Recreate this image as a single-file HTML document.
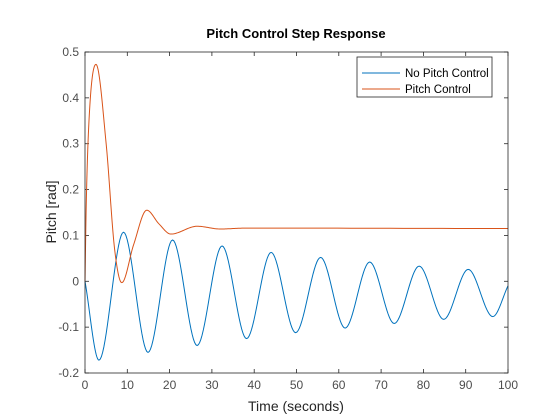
<!DOCTYPE html>
<html><head><meta charset="utf-8"><style>
body{margin:0;background:#fff;}
svg{display:block;font-family:"Liberation Sans",sans-serif;}
</style></head><body>
<svg id="chart" width="560" height="420">
<rect x="0" y="0" width="560" height="420" fill="#fff"/>
<rect x="85" y="52" width="423" height="321" fill="#fff"/>
<g id="ticks"></g>
<g id="series"></g>
<rect x="85" y="52" width="423" height="321" fill="none" stroke="#262626" stroke-width="0.8"/>
<text x="296" y="38" text-anchor="middle" font-size="13" font-weight="bold" fill="#000">Pitch Control Step Response</text>
<text x="296" y="411" text-anchor="middle" font-size="14" fill="#262626">Time (seconds)</text>
<text x="0" y="0" transform="translate(56,212) rotate(-90)" text-anchor="middle" font-size="14" fill="#262626">Pitch [rad]</text>
<g>
<rect x="357" y="57" width="135" height="40" fill="#fff" stroke="#262626" stroke-width="0.8"/>
<line x1="362" y1="73" x2="400" y2="73" stroke="#0072BD" stroke-width="1"/>
<text x="405" y="77" font-size="11.5" fill="#000">No Pitch Control</text>
<line x1="362" y1="89" x2="400" y2="89" stroke="#D95319" stroke-width="1"/>
<text x="405" y="93" font-size="11.5" fill="#000">Pitch Control</text>
</g>
</svg>
<script>
const xTicks=[0,10,20,30,40,50,60,70,80,90,100];
const yTicks=[-0.2,-0.1,0,0.1,0.2,0.3,0.4,0.5];
const yTickLabels=["-0.2","-0.1","0","0.1","0.2","0.3","0.4","0.5"];
const noPitchT=[0,3.3,9.1,14.9,20.7,26.5,32.4,38.2,44,49.8,55.7,61.5,67.3,73.1,79,84.8,90.6,96.4,100];
const noPitchY=[0,-0.172,0.107,-0.155,0.09,-0.14,0.077,-0.125,0.063,-0.112,0.052,-0.102,0.042,-0.092,0.033,-0.083,0.026,-0.077,-0.01];
const pitchT=[0,0.3,1,2.6,5,7,8.7,11.5,14.6,17.5,20.3,26.5,32,38,100];
const pitchY=[0,0.17,0.36,0.473,0.3,0.07,-0.003,0.08,0.155,0.125,0.103,0.12,0.114,0.116,0.115];

const X0=85,X1=508,Y0=373,Y1=52;
function sx(t){return X0+(t-0)/(100-0)*(X1-X0);}
function sy(v){return Y0-(v+0.2)/0.7*(Y0-Y1);}
const NS="http://www.w3.org/2000/svg";
const tg=document.getElementById('ticks');
function mk(tag,attrs,parent){const e=document.createElementNS(NS,tag);for(const k in attrs)e.setAttribute(k,attrs[k]);parent.appendChild(e);return e;}
xTicks.forEach(t=>{
  const x=sx(t);
  const a=mk('line',{x1:x,y1:Y0,x2:x,y2:Y0-4,stroke:'#262626','stroke-width':0.8},tg);
  
  
  const b=mk('line',{x1:x,y1:Y1,x2:x,y2:Y1+4,stroke:'#262626','stroke-width':0.8},tg);
  
  
  const l=mk('text',{x:x,y:Y0+16,'text-anchor':'middle','font-size':12,fill:'#4d4d4d'},tg);
  l.textContent=String(t);
  
  
});
yTicks.forEach((v,i)=>{
  const y=sy(v);
  const a=mk('line',{x1:X0,y1:y,x2:X0+4,y2:y,stroke:'#262626','stroke-width':0.8},tg);
  
  
  const b=mk('line',{x1:X1,y1:y,x2:X1-4,y2:y,stroke:'#262626','stroke-width':0.8},tg);
  
  
  const l=mk('text',{x:X0-6,y:y+4,'text-anchor':'end','font-size':12,fill:'#4d4d4d'},tg);
  l.textContent=yTickLabels[i];
  
  
});
function monotone(xs,ys){
  const n=xs.length,d=[],m=new Array(n);
  for(let i=0;i<n-1;i++)d.push((ys[i+1]-ys[i])/(xs[i+1]-xs[i]));
  m[0]=d[0];m[n-1]=d[n-2];
  for(let i=1;i<n-1;i++){m[i]=(d[i-1]*d[i]<=0)?0:(d[i-1]+d[i])/2;}
  for(let i=0;i<n-1;i++){if(d[i]===0){m[i]=0;m[i+1]=0;continue;}
    const a=m[i]/d[i],b=m[i+1]/d[i],s=a*a+b*b;if(s>9){const t=3/Math.sqrt(s);m[i]=t*a*d[i];m[i+1]=t*b*d[i];}}
  let p='';
  for(let i=0;i<n-1;i++){const h=xs[i+1]-xs[i];
    for(let k=0;k<=20;k++){if(i>0&&k===0)continue;const s=k/20,s2=s*s,s3=s2*s;
      const v=(2*s3-3*s2+1)*ys[i]+(s3-2*s2+s)*h*m[i]+(-2*s3+3*s2)*ys[i+1]+(s3-s2)*h*m[i+1];
      const t=xs[i]+s*h;p+=(p?'L':'M')+sx(t).toFixed(2)+','+sy(v).toFixed(2);}}
  return p;
}
const sg=document.getElementById('series');
const p1=mk('path',{d:monotone(noPitchT,noPitchY),fill:'none',stroke:'#0072BD','stroke-width':1},sg);


const p2=mk('path',{d:monotone(pitchT,pitchY),fill:'none',stroke:'#D95319','stroke-width':1},sg);


</script>
</body></html>
